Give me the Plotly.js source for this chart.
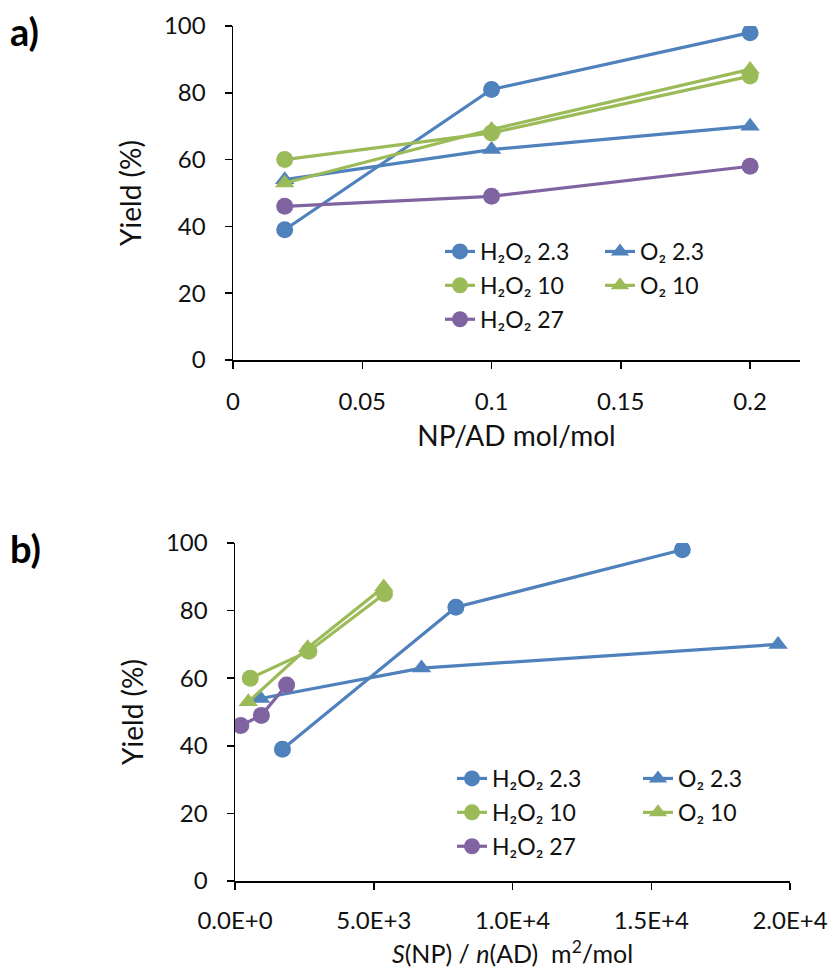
<!DOCTYPE html>
<html>
<head>
<meta charset="utf-8">
<script src="https://cdn.plot.ly/plotly-3.0.1.min.js"></script>
<style>html,body{margin:0;padding:0;background:#fff;}#chart{width:834px;height:979px;}</style>
</head>
<body>
<div id="chart"></div>
<script>
// ---- data ----
var ratioNP = [0.02, 0.1, 0.2];                 // NP/AD mol/mol (panel a)
var yieldH2O2_23 = [39, 81, 98];
var yieldO2_23   = [54, 63, 70];
var yieldH2O2_10 = [60, 68, 85];
var yieldO2_10   = [53, 69, 87];
var yieldH2O2_27 = [46, 49, 58];

// S(NP)/n(AD) m2/mol (panel b)
var sH2O2_23 = [1710, 7960, 16120];
var sO2_23   = [920, 6720, 19570];
var sH2O2_10 = [550, 2660, 5390];
var sO2_10   = [480, 2620, 5360];
var sH2O2_27 = [210, 950, 1860];

var seriesNames = ['H\u2082O\u2082 2.3', 'O\u2082 2.3', 'H\u2082O\u2082 10', 'O\u2082 10', 'H\u2082O\u2082 27'];
var bTickVals = [0, 5000, 10000, 15000, 20000];
var bTickText = ['0.0E+0', '5.0E+3', '1.0E+4', '1.5E+4', '2.0E+4'];
var aTickVals = [0, 0.05, 0.1, 0.15, 0.2];
var yTickVals = [0, 20, 40, 60, 80, 100];

var BLUE = '#4F81BD', GREEN = '#9BBB59', PURPLE = '#8064A2';
var FONT = 'Lato, "Open Sans", sans-serif';

function tr(x, y, name, color, sym, xa, ya, leg, grp) {
  return {
    x: x, y: y, name: name, type: 'scatter', mode: 'lines+markers',
    xaxis: xa, yaxis: ya, legend: leg, legendgroup: grp,
    line: {color: color, width: 3.2},
    marker: {color: color, size: 17, symbol: sym === 'circle' ? 'circle' : 'triangle-up'}
  };
}

var ys = [yieldH2O2_23, yieldO2_23, yieldH2O2_10, yieldO2_10, yieldH2O2_27];
var xsB = [sH2O2_23, sO2_23, sH2O2_10, sO2_10, sH2O2_27];
var colors = [BLUE, BLUE, GREEN, GREEN, PURPLE];
var syms = ['circle', 'triangle', 'circle', 'triangle', 'circle'];
var legA = ['legend', 'legend2', 'legend', 'legend2', 'legend'];
var legB = ['legend3', 'legend4', 'legend3', 'legend4', 'legend3'];

var data = [];
for (var i = 0; i < 5; i++) {
  data.push(tr(ratioNP, ys[i], seriesNames[i], colors[i], syms[i], 'x', 'y', legA[i], 'a' + i));
}
for (var j = 0; j < 5; j++) {
  data.push(tr(xsB[j], ys[j], seriesNames[j], colors[j], syms[j], 'x2', 'y2', legB[j], 'b' + j));
}

function axisCommon() {
  return {
    showgrid: false, zeroline: false, showline: true, linecolor: '#000', linewidth: 1.5,
    ticks: 'outside', ticklen: 7, tickwidth: 1.5, tickcolor: '#000',
    tickfont: {family: FONT, size: 24, color: '#111'}
  };
}
function legendCfg(x, y) {
  return {x: x, y: y, xanchor: 'left', yanchor: 'top', bgcolor: 'rgba(0,0,0,0)',
          font: {family: FONT, size: 23, color: '#111'}, tracegroupgap: 1, itemwidth: 30};
}
var TFONT = {family: FONT, size: 28, color: '#111'};

var xa = Object.assign(axisCommon(), {domain: [233/834, 800/834], range: [0, 0.2193], tickvals: aTickVals, anchor: 'y',
  ticklabelstandoff: 13,
  title: {text: 'NP/AD mol/mol', font: TFONT, standoff: 12}});
var ya = Object.assign(axisCommon(), {domain: [1 - 360/979, 1 - 26/979], range: [0, 100], tickvals: yTickVals, anchor: 'x',
  ticklabelstandoff: 14,
  title: {text: 'Yield (%)', font: TFONT, standoff: 14}});
var xb = Object.assign(axisCommon(), {domain: [235/834, 790/834], range: [0, 20000], tickvals: bTickVals, ticktext: bTickText, anchor: 'y2',
  ticklabelstandoff: 11,
  title: {text: '<i>S</i>(NP) / <i>n</i>(AD)\u00a0\u00a0m<sup>2</sup>/mol', font: {family: FONT, size: 25, color: '#111'}, standoff: 12}});
var yb = Object.assign(axisCommon(), {domain: [1 - 881/979, 1 - 543/979], range: [0, 100], tickvals: yTickVals, anchor: 'x2',
  ticklabelstandoff: 14,
  title: {text: 'Yield (%)', font: TFONT, standoff: 14}});

var layout = {
  width: 834, height: 979,
  margin: {l: 0, r: 0, t: 0, b: 0},
  paper_bgcolor: '#fff', plot_bgcolor: '#fff',
  showlegend: true,
  xaxis: xa, yaxis: ya, xaxis2: xb, yaxis2: yb,
  legend: legendCfg(440/834, 1 - 230/979),
  legend2: legendCfg(600/834, 1 - 230/979),
  legend3: legendCfg(452/834, 1 - 757/979),
  legend4: legendCfg(638/834, 1 - 757/979),
  annotations: [
    {text: '<b>a)</b>', x: 8/834, y: 1 - 6/979, xref: 'paper', yref: 'paper', xanchor: 'left', yanchor: 'top', showarrow: false, font: {family: FONT, size: 38, color: '#000'}},
    {text: '<b>b)</b>', x: 8/834, y: 1 - 523/979, xref: 'paper', yref: 'paper', xanchor: 'left', yanchor: 'top', showarrow: false, font: {family: FONT, size: 38, color: '#000'}}
  ]
};

Plotly.newPlot('chart', data, layout, {displayModeBar: false, staticPlot: true});
</script>
</body>
</html>
